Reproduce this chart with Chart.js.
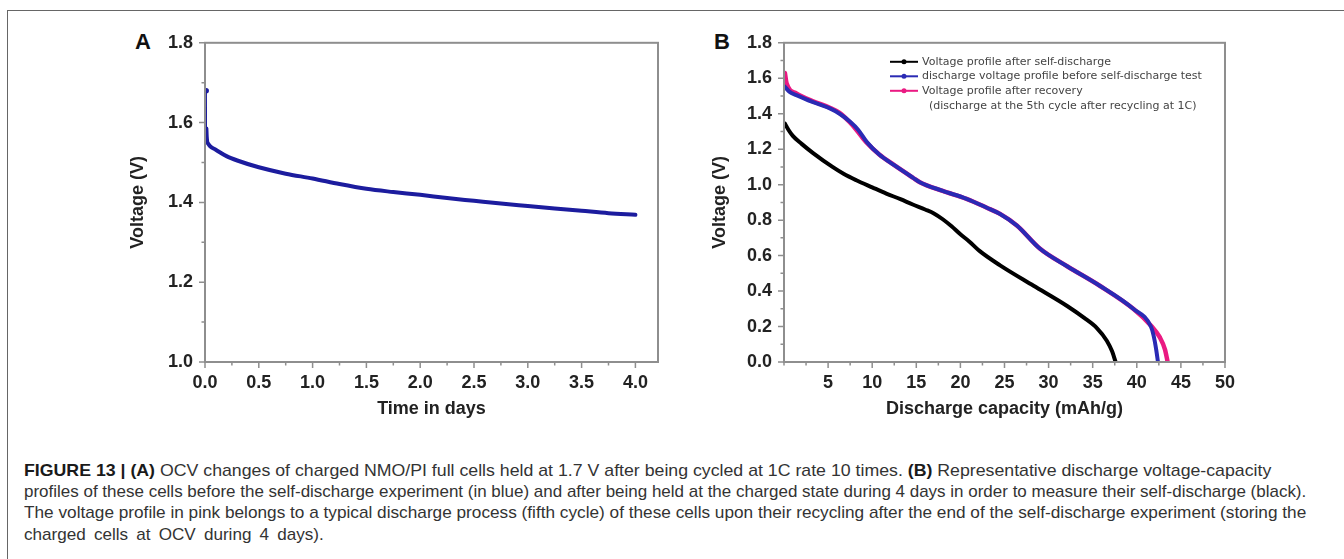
<!DOCTYPE html>
<html>
<head>
<meta charset="utf-8">
<script src="https://cdn.jsdelivr.net/npm/chart.js@4.4.1/dist/chart.umd.min.js"></script>
<style>
  html, body { margin: 0; padding: 0; background: #fff; }
  body { width: 1344px; height: 559px; position: relative; overflow: hidden; font-family: 'Liberation Sans', Arial, sans-serif; }
  .frame { position: absolute; left: 7px; top: 10px; right: -2px; bottom: -2px; border-top: 1px solid #666; border-left: 1px solid #666; }
  .panel { position: absolute; top: 20px; height: 410px; }
  .tag { position: absolute; font: bold 22px 'Liberation Sans', Arial, sans-serif; color: #111; transform: translate(-50%, -50%); }
  .cap { position: absolute; left: 24px; white-space: nowrap; font-size: 17px; line-height: 20px; color: #333; transform-origin: 0 50%; }
  .cap b { color: #1a1a1a; }
</style>
</head>
<body>
<div class="frame"></div>
<div class="tag" style="left:143px; top:42px;">A</div>
<div class="tag" style="left:722px; top:42px;">B</div>
<div class="panel" style="left:100px; width:580px;"><canvas id="chartA"></canvas></div>
<div class="panel" style="left:680px; width:565px;"><canvas id="chartB"></canvas></div>

<div class="cap" style="top:461px;"><b>FIGURE 13 | (A)</b> OCV changes of charged NMO/PI full cells held at 1.7 V after being cycled at 1C rate 10 times. <b>(B)</b> Representative discharge voltage-capacity</div>
<div class="cap" style="top:482px;">profiles of these cells before the self-discharge experiment (in blue) and after being held at the charged state during 4 days in order to measure their self-discharge (black).</div>
<div class="cap" style="top:503px;">The voltage profile in pink belongs to a typical discharge process (fifth cycle) of these cells upon their recycling after the end of the self-discharge experiment (storing the</div>
<div class="cap" style="top:525px;">charged cells at OCV during 4 days).</div>

<script>
// Panel A: OCV of the charged cells during the rest period
const restSpikeDays = [0.011, 0.012];
const restSpikeVolts = [1.68, 1.585];
const restDays = [0.013, 0.016, 0.02, 0.03, 0.05, 0.1, 0.2, 0.3, 0.5, 0.75, 1.0, 1.25, 1.5, 1.75, 2.0, 2.25, 2.5, 2.75, 3.0, 3.25, 3.5, 3.75, 4.0];
const restVolts = [1.585, 1.565, 1.553, 1.547, 1.540, 1.532, 1.516, 1.505, 1.488, 1.472, 1.460, 1.446, 1.434, 1.426, 1.419, 1.411, 1.404, 1.397, 1.391, 1.385, 1.379, 1.373, 1.369];
const dayTicks = [0, 0.5, 1.0, 1.5, 2.0, 2.5, 3.0, 3.5, 4.0];
const voltTicksA = [1.0, 1.2, 1.4, 1.6, 1.8];

// Panel B: discharge profiles
const capSelfDis = [0.1, 0.5, 1.0, 2.0, 3.3, 5.5, 6.8, 8.2, 10.0, 11.6, 13.2, 14.6, 16.0, 17.0, 18.0, 19.0, 20.0, 21.0, 22.2, 24.5, 28.3, 32.1, 34.0, 35.5, 36.6, 37.2, 37.6];
const voltSelfDis = [1.345, 1.31, 1.275, 1.23, 1.178, 1.10, 1.06, 1.025, 0.985, 0.95, 0.918, 0.888, 0.86, 0.838, 0.805, 0.765, 0.72, 0.68, 0.625, 0.545, 0.43, 0.316, 0.25, 0.19, 0.12, 0.06, 0.0];
const capBefore = [0.05, 0.6, 1.4, 3.3, 5.2, 6.3, 7.5, 8.4, 9.4, 10.8, 12.5, 14.6, 15.4, 18.0, 20.7, 23.0, 24.5, 26.4, 29.0, 32.1, 35.8, 39.6, 41.6, 41.9, 42.2, 42.4];
const voltBefore = [1.555, 1.525, 1.505, 1.465, 1.43, 1.40, 1.355, 1.31, 1.24, 1.17, 1.11, 1.04, 1.014, 0.965, 0.92, 0.87, 0.835, 0.77, 0.64, 0.54, 0.43, 0.30, 0.20, 0.15, 0.07, 0.0];
const capRecovered = [0.1, 0.3, 1.4, 3.3, 5.2, 6.3, 7.4, 8.2, 9.3, 10.8, 12.5, 14.6, 15.4, 18.0, 20.7, 23.0, 24.5, 26.4, 29.0, 32.1, 35.8, 39.6, 41.7, 42.6, 43.2, 43.5];
const voltRecovered = [1.63, 1.57, 1.515, 1.47, 1.434, 1.405, 1.355, 1.31, 1.24, 1.17, 1.11, 1.04, 1.014, 0.965, 0.92, 0.87, 0.835, 0.77, 0.64, 0.54, 0.43, 0.30, 0.20, 0.14, 0.07, 0.0];
const capTicks = [5, 10, 15, 20, 25, 30, 35, 40, 45, 50];
const voltTicksB = [0.0, 0.2, 0.4, 0.6, 0.8, 1.0, 1.2, 1.4, 1.6, 1.8];
const legendNote = '(discharge at the 5th cycle after recycling at 1C)';

const pts = (xs, ys) => xs.map((x, i) => ({ x, y: ys[i] }));
const tickFont = { family: "'Liberation Sans', Arial, sans-serif", size: 18, weight: 'bold' };
const titleFont = { family: "'Liberation Sans', Arial, sans-serif", size: 18, weight: 'bold' };

// gray box round the plot area with major and minor tick marks pointing out
const frameTicks = {
  id: 'frameTicks',
  afterDatasetsDraw(chart, args, opts) {
    const { ctx, chartArea: a, scales: { x, y } } = chart;
    ctx.save();
    ctx.strokeStyle = '#8e8e8e';
    ctx.lineWidth = 2;
    ctx.strokeRect(a.left, a.top, a.right - a.left, a.bottom - a.top);
    ctx.lineWidth = 1.5;
    ctx.beginPath();
    for (let v = x.min; v <= x.max + 1e-9; v += opts.xMinor) {
      const major = x.ticks.some(t => Math.abs(t.value - v) < 1e-6);
      const px = x.getPixelForValue(v);
      ctx.moveTo(px, a.bottom);
      ctx.lineTo(px, a.bottom + (major ? 6 : 3.5));
    }
    for (let v = y.min; v <= y.max + 1e-9; v += opts.yMinor) {
      const major = y.ticks.some(t => Math.abs(t.value - v) < 1e-6);
      const py = y.getPixelForValue(v);
      ctx.moveTo(a.left, py);
      ctx.lineTo(a.left - (major ? 6 : 3.5), py);
    }
    ctx.stroke();
    ctx.restore();
  }
};

// legend drawn inside panel B, line + dot symbol like the plotting software
const insetLegend = {
  id: 'insetLegend',
  afterDraw(chart, args, opts) {
    if (!opts.display) return;
    const { ctx, chartArea: a } = chart;
    const x0 = a.left + opts.dx;
    ctx.save();
    ctx.font = "11px 'DejaVu Sans', sans-serif";
    ctx.textBaseline = 'middle';
    chart.data.datasets.forEach((ds, i) => {
      const yy = a.top + opts.dy + i * 14.5;
      ctx.strokeStyle = ds.borderColor;
      ctx.fillStyle = ds.borderColor;
      ctx.lineWidth = 2;
      ctx.beginPath();
      ctx.moveTo(x0, yy);
      ctx.lineTo(x0 + 28, yy);
      ctx.stroke();
      ctx.beginPath();
      ctx.arc(x0 + 14, yy, 2.5, 0, Math.PI * 2);
      ctx.fill();
      ctx.fillStyle = '#444';
      ctx.fillText(ds.label, x0 + 32, yy);
    });
    ctx.fillStyle = '#444';
    ctx.fillText(opts.note, x0 + 39, a.top + opts.dy + 3 * 14.8);
    ctx.restore();
  }
};

function axisX(min, max, ticks, title) {
  return {
    type: 'linear', min, max,
    afterBuildTicks: s => { s.ticks = ticks.map(v => ({ value: v })); },
    afterFit: s => { s.height = 60; },
    grid: { display: false, drawTicks: false },
    border: { display: false },
    ticks: { font: tickFont, color: '#222', padding: 10, maxRotation: 0, autoSkip: false, callback: v => v.toFixed(ticks === dayTicks ? 1 : 0) },
    title: { display: true, text: title, font: titleFont, color: '#222', padding: { top: 0, bottom: 2 } }
  };
}

function axisY(min, max, ticks, width) {
  return {
    type: 'linear', min, max,
    afterBuildTicks: s => { s.ticks = ticks.map(v => ({ value: v })); },
    afterFit: s => { s.width = width; },
    grid: { display: false, drawTicks: false },
    border: { display: false },
    ticks: { font: tickFont, color: '#222', padding: 12, autoSkip: false, callback: v => v.toFixed(1) },
    title: { display: true, text: 'Voltage (V)', font: titleFont, color: '#222', padding: { top: 0, bottom: 0 } }
  };
}

const common = {
  responsive: false,
  animation: false,
  events: [],
  elements: { point: { radius: 0 }, line: { cubicInterpolationMode: 'monotone', borderCapStyle: 'round', borderJoinStyle: 'round' } },
};

const cA = document.getElementById('chartA');
cA.width = 580; cA.height = 410;
new Chart(cA, {
  type: 'scatter',
  data: {
    datasets: [
      { label: 'spike', data: pts(restSpikeDays, restSpikeVolts), showLine: true, borderColor: '#1c1c9e', backgroundColor: '#1c1c9e', borderWidth: 1.5, pointRadius: c => (c.dataIndex === 0 ? 2 : 0) },
      { label: 'OCV', data: pts(restDays, restVolts), showLine: true, borderColor: '#1c1c9e', borderWidth: 4 }
    ]
  },
  options: {
    ...common,
    layout: { padding: { left: 27, right: 22, top: 21, bottom: 8 } },
    plugins: { legend: { display: false }, tooltip: { enabled: false }, frameTicks: { xMinor: 0.25, yMinor: 0.1 }, insetLegend: { display: false } },
    scales: { x: axisX(0, 4.21, dayTicks, 'Time in days'), y: axisY(1.0, 1.8, voltTicksA, 78) }
  },
  plugins: [frameTicks, insetLegend]
});

const cB = document.getElementById('chartB');
cB.width = 565; cB.height = 410;
new Chart(cB, {
  type: 'scatter',
  data: {
    datasets: [
      { label: 'Voltage profile after self-discharge', data: pts(capSelfDis, voltSelfDis), showLine: true, borderColor: '#000000', borderWidth: 4 },
      { label: 'discharge voltage profile before self-discharge test', data: pts(capBefore, voltBefore), showLine: true, borderColor: '#2a2ab4', borderWidth: 4 },
      { label: 'Voltage profile after recovery', data: pts(capRecovered, voltRecovered), showLine: true, borderColor: '#ea1a82', borderWidth: 4.5 }
    ]
  },
  options: {
    ...common,
    layout: { padding: { left: 29, right: 20, top: 21, bottom: 8 } },
    plugins: { legend: { display: false }, tooltip: { enabled: false }, frameTicks: { xMinor: 2.5, yMinor: 0.1 }, insetLegend: { display: true, dx: 106, dy: 19, note: legendNote } },
    scales: { x: axisX(0, 50, capTicks, 'Discharge capacity (mAh/g)'), y: axisY(0, 1.8, voltTicksB, 75) }
  },
  plugins: [frameTicks, insetLegend]
});

// caption lines squeezed to the widths of the printed column;
// the short last line keeps the common squeeze and gets wider word gaps
const caps = Array.from(document.querySelectorAll('.cap'));
const capWidths = [1247, 1282, 1282];
const scales = capWidths.map((w, i) => w / caps[i].scrollWidth);
const kLast = (scales[1] + scales[2]) / 2;
const last = caps[3];
const gaps = last.textContent.split(' ').length - 1;
last.style.wordSpacing = Math.max(0, (300 / kLast - last.scrollWidth) / gaps) + 'px';
scales.push(kLast);
caps.forEach((el, i) => { el.style.transform = `scaleX(${scales[i]})`; });
</script>
</body>
</html>
